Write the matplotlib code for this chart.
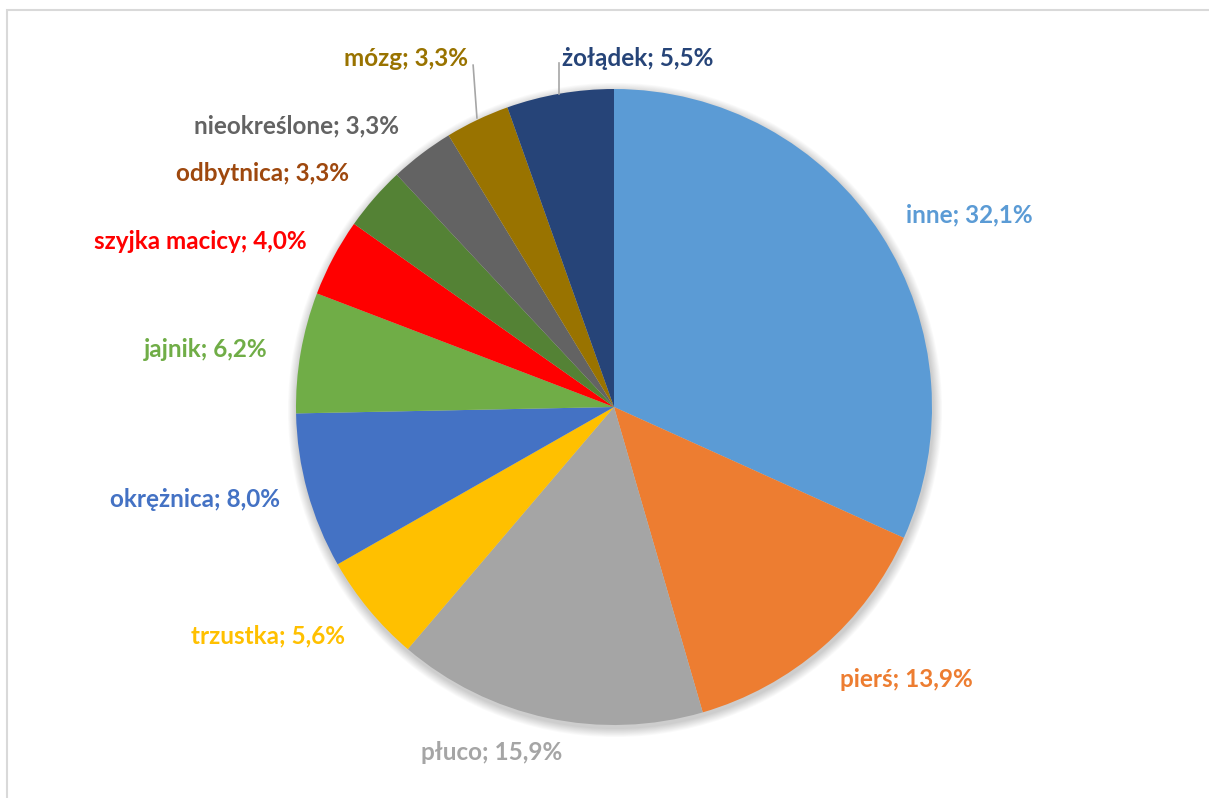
import matplotlib
matplotlib.use("Agg")
import matplotlib.pyplot as plt
from matplotlib.patches import Circle, Rectangle
import numpy as np

# ---- data ----
categories = ["inne", "pierś", "płuco", "trzustka", "okrężnica", "jajnik",
              "szyjka macicy", "odbytnica", "nieokreślone", "mózg", "żołądek"]
values = [32.1, 13.9, 15.9, 5.6, 8.0, 6.2, 4.0, 3.3, 3.3, 3.3, 5.5]
value_labels = ["32,1%", "13,9%", "15,9%", "5,6%", "8,0%", "6,2%",
                "4,0%", "3,3%", "3,3%", "3,3%", "5,5%"]

# ---- styles / layout ----
wedge_colors = ["#5B9BD5", "#ED7D31", "#A5A5A5", "#FFC000", "#4472C4", "#70AD47",
                "#FF0000", "#548235", "#636363", "#997300", "#264478"]
label_colors = ["#5B9BD5", "#ED7D31", "#A5A5A5", "#FFC000", "#4472C4", "#70AD47",
                "#FF0000", "#9E480E", "#636363", "#997300", "#264478"]
# label centre offsets from pie centre, in units of radius
label_offsets = [(1.116, 0.604), (0.918, -0.858), (-0.384, -1.085), (-1.088, -0.720),
                 (-1.318, -0.292), (-1.283, 0.182), (-1.302, 0.519), (-1.104, 0.733),
                 (-1.0, 0.884), (-0.655, 1.097), (0.075, 1.097)]
leaders = {9: ((-0.431, 0.909), (-0.443, 1.075)),
           10: ((-0.173, 0.985), (-0.173, 1.082))}

W, H = 1209, 798
fig = plt.figure(figsize=(W / 100, H / 100), dpi=100)
ax = fig.add_axes([0, 0, 1, 1])
ax.set_xlim(0, W)
ax.set_ylim(0, H)
ax.set_aspect("equal")
ax.axis("off")

cx, cy, R = 614, H - 407, 318

# chart frame
ax.add_patch(Rectangle((7, -20), W + 40, H - 10 + 20, fill=False,
                       edgecolor="#D9D9D9", linewidth=1.5))

# soft shadow
for i in range(10):
    ax.add_patch(Circle((cx + 1, cy - 3), R + 1 + i * 0.9, facecolor="#000000",
                        alpha=0.018, edgecolor="none", zorder=1))

ax.pie(values, colors=wedge_colors, startangle=90, counterclock=False,
       center=(cx, cy), radius=R, wedgeprops=dict(linewidth=0, zorder=2))
ax.set_xlim(0, W)
ax.set_ylim(0, H)

for i, (cat, vl) in enumerate(zip(categories, value_labels)):
    dx, dy = label_offsets[i]
    ax.text(cx + dx * R, cy + dy * R, f"{cat}; {vl}", color=label_colors[i],
            fontsize=17.5, fontweight="bold", family=["Lato", "DejaVu Sans"],
            ha="center", va="center", zorder=5)

for i, ((x0, y0), (x1, y1)) in leaders.items():
    ax.plot([cx + x0 * R, cx + x1 * R], [cy + y0 * R, cy + y1 * R],
            color="#A6A6A6", linewidth=1.2, zorder=4)

fig.savefig("out.png", dpi=100)
